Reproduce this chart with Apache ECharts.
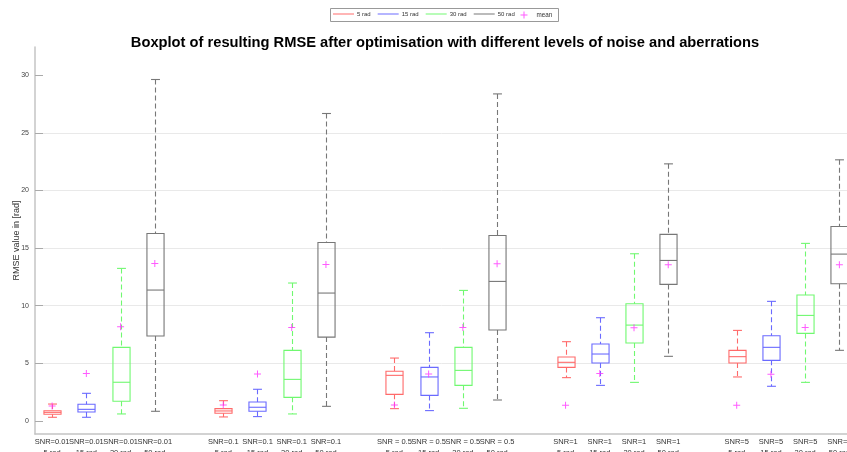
<!DOCTYPE html>
<html>
<head>
<meta charset="utf-8">
<script src="https://cdn.jsdelivr.net/npm/echarts@6/dist/echarts.min.js"></script>
<style>
  html, body { margin: 0; padding: 0; background: #fff; }
  #chart { width: 847px; height: 452px; }
</style>
</head>
<body>
<div id="chart"></div>
<script>
// Noise levels (x groups) and aberration strengths (one box per group)
const snrGroups = ['SNR=0.01', 'SNR=0.1', 'SNR = 0.5', 'SNR=1', 'SNR=5'];
const aberrations = ['5 rad', '15 rad', '30 rad', '50 rad'];

// Five-number summaries per group: [lower whisker, Q1, median, Q3, upper whisker]
const stats5rad = [
  [0.32, 0.58, 0.75, 0.89, 1.47],
  [0.35, 0.67, 0.87, 1.07, 1.76],
  [1.07, 2.31, 3.96, 4.31, 5.46],
  [3.76, 4.65, 5.09, 5.55, 6.88],
  [3.82, 5.03, 5.58, 6.13, 7.86]
];
const stats15rad = [
  [0.32, 0.78, 1.01, 1.45, 2.40],
  [0.38, 0.84, 1.19, 1.65, 2.75],
  [0.90, 2.22, 3.82, 4.65, 7.66],
  [3.09, 5.03, 5.81, 6.68, 8.96],
  [3.01, 5.26, 6.39, 7.40, 10.38]
];
const stats30rad = [
  [0.61, 1.71, 3.36, 6.39, 13.24],
  [0.61, 2.05, 3.61, 6.13, 11.97],
  [1.10, 3.09, 4.39, 6.39, 11.33],
  [3.35, 6.76, 8.32, 10.17, 14.51],
  [3.35, 7.60, 9.16, 10.93, 15.41]
];
const stats50rad = [
  [0.84, 7.37, 11.36, 16.27, 29.63],
  [1.27, 7.28, 11.10, 15.49, 26.68],
  [1.82, 7.89, 12.11, 16.10, 28.38],
  [5.61, 11.85, 13.93, 16.19, 22.31],
  [6.13, 11.91, 14.48, 16.88, 22.66]
];

// Mean RMSE per group for each aberration strength
const mean5rad  = [1.30, 1.39, 1.39, 1.36, 1.36];
const mean15rad = [4.13, 4.07, 4.07, 4.13, 4.05];
const mean30rad = [8.18, 8.12, 8.12, 8.09, 8.12];
const mean50rad = [13.67, 13.58, 13.64, 13.55, 13.55];

const yTicks = [0, 5, 10, 15, 20, 25, 30];

const allStats = [stats5rad, stats15rad, stats30rad, stats50rad];
const allMeans = [mean5rad, mean15rad, mean30rad, mean50rad];
const colors = ['#ff6a6a', '#6a6aff', '#70f870', '#777777'];
const meanColor = '#ff33ff';

// One slot per box, with an empty slot between SNR groups
const slotsPerGroup = aberrations.length + 1;
const slotCount = snrGroups.length * slotsPerGroup - 1;
const slotLabels = [];
for (let i = 0; i < slotCount; i++) {
  const g = Math.floor(i / slotsPerGroup);
  const k = i % slotsPerGroup;
  slotLabels.push(k < aberrations.length ? snrGroups[g] + '\n' + aberrations[k] : '');
}
const slotOf = (g, k) => g * slotsPerGroup + k;

function renderBox(params, api) {
  const x = api.value(0);
  const lo = api.coord([x, api.value(1)]);
  const q1 = api.coord([x, api.value(2)]);
  const md = api.coord([x, api.value(3)]);
  const q3 = api.coord([x, api.value(4)]);
  const hi = api.coord([x, api.value(5)]);
  const slotW = api.size([1, 0])[0];
  const halfBox = slotW * 0.25;
  const halfCap = slotW * 0.13;
  const cx = Math.round(lo[0]) + 0.5;
  const color = api.visual('color');
  const solid = { stroke: color, fill: null, lineWidth: 1.1 };
  const dashed = { stroke: color, fill: null, lineWidth: 1.1, lineDash: [5, 3] };
  return {
    type: 'group',
    children: [
      { type: 'line', shape: { x1: cx, y1: hi[1], x2: cx, y2: q3[1] }, style: dashed },
      { type: 'line', shape: { x1: cx, y1: q1[1], x2: cx, y2: lo[1] }, style: dashed },
      { type: 'line', shape: { x1: cx - halfCap, y1: hi[1], x2: cx + halfCap, y2: hi[1] }, style: solid },
      { type: 'line', shape: { x1: cx - halfCap, y1: lo[1], x2: cx + halfCap, y2: lo[1] }, style: solid },
      { type: 'rect', shape: { x: cx - halfBox, y: q3[1], width: halfBox * 2, height: q1[1] - q3[1] }, style: solid },
      { type: 'line', shape: { x1: cx - halfBox, y1: md[1], x2: cx + halfBox, y2: md[1] }, style: solid }
    ]
  };
}

const plusPath = 'path://M3,0h1v3h3v1h-3v3h-1v-3h-3v-1h3z';

const series = aberrations.map((name, k) => ({
  name: name,
  type: 'custom',
  renderItem: renderBox,
  itemStyle: { color: colors[k] },
  lineStyle: { color: colors[k] },
  encode: { x: 0, y: [1, 2, 3, 4, 5] },
  data: allStats[k].map((s, g) => [slotOf(g, k)].concat(s)),
  z: 2
}));

const meanData = [];
allMeans.forEach((arr, k) => arr.forEach((m, g) => meanData.push([slotOf(g, k), m])));
series.push({
  name: 'mean',
  type: 'scatter',
  symbol: plusPath,
  symbolSize: 7,
  itemStyle: { color: meanColor },
  data: meanData,
  z: 3
});

const font = 'Liberation Sans, Arial, sans-serif';

const chart = echarts.init(document.getElementById('chart'), null, { renderer: 'canvas' });
chart.setOption({
  animation: false,
  backgroundColor: '#fff',
  title: {
    text: 'Boxplot of resulting RMSE after optimisation with different levels of noise and aberrations',
    left: 440,
    top: 30,
    textAlign: 'center',
    textStyle: { fontFamily: font, fontSize: 14.7, fontWeight: 'bold', color: '#000' }
  },
  graphic: [{
    type: 'rect',
    shape: { x: 330.5, y: 8.5, width: 228, height: 13 },
    style: { fill: '#fff', stroke: '#999', lineWidth: 1 },
    z: 0
  }],
  legend: [{
    data: aberrations.map((n, k) => ({
      name: n,
      icon: 'rect',
      itemStyle: { color: colors[k], borderColor: colors[k], borderWidth: 0 },
      lineStyle: { color: colors[k] }
    })),
    left: 333,
    top: 11,
    itemWidth: 21,
    itemHeight: 1,
    itemGap: 7,
    padding: 0,
    selectedMode: false,
    textStyle: { fontFamily: font, fontSize: 6, color: '#333', padding: [0, 0, 0, -2] }
  }, {
    data: [{ name: 'mean', icon: plusPath, itemStyle: { color: meanColor } }],
    left: 520.5,
    top: 11.5,
    itemWidth: 15,
    itemHeight: 7,
    padding: 0,
    selectedMode: false,
    textStyle: { fontFamily: font, fontSize: 6.3, color: '#333' }
  }],
  grid: { left: 35, right: -9.5, top: 47, bottom: 18, containLabel: false, outerBoundsMode: 'none' },
  xAxis: {
    type: 'category',
    data: slotLabels,
    boundaryGap: true,
    axisLine: { show: true, onZero: false, lineStyle: { color: '#c4c4c4', width: 1.5 } },
    axisTick: { show: false },
    splitLine: { show: false },
    axisLabel: {
      interval: 0,
      margin: 3,
      hideOverlap: false,
      fontFamily: font,
      fontSize: 7.5,
      lineHeight: 10.5,
      color: '#333'
    }
  },
  yAxis: {
    type: 'value',
    min: -1.13,
    max: 32.45,
    name: 'RMSE value in [rad]',
    nameLocation: 'middle',
    nameRotate: 90,
    nameGap: 14,
    nameMoveOverlap: false,
    nameTextStyle: { fontFamily: font, fontSize: 9, color: '#333' },
    axisLine: { show: true, onZero: false, lineStyle: { color: '#c4c4c4', width: 1.5 } },
    axisTick: { show: true, inside: true, length: 8, customValues: yTicks, lineStyle: { color: '#aaa' } },
    axisLabel: {
      customValues: yTicks,
      margin: 6,
      fontFamily: font,
      fontSize: 7,
      color: '#444'
    },
    splitLine: { show: true, showMinLine: false, showMaxLine: false, lineStyle: { color: '#e9e9e9', width: 1 } }
  },
  series: series
});
</script>
</body>
</html>
